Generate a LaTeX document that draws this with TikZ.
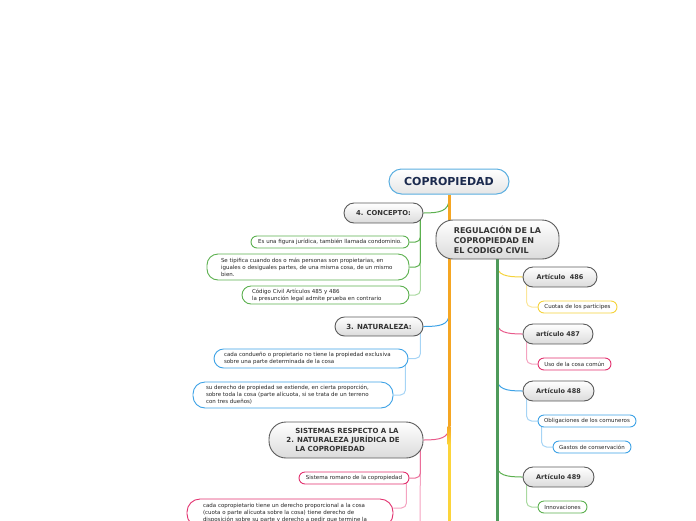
\documentclass[tikz,border=0pt]{standalone}
\usepackage{fontspec}
\setmainfont{DejaVu Sans}
\usetikzlibrary{backgrounds}
\definecolor{txt}{HTML}{333333}
\definecolor{navy}{HTML}{1B2A4E}
\definecolor{cborder}{HTML}{5AAEE0}
\definecolor{gborder}{HTML}{5A5A5A}
\definecolor{trunkO}{HTML}{F5A623}
\definecolor{trunkY}{HTML}{FCD43A}
\definecolor{trunkG}{HTML}{4E9A5A}
\definecolor{cgreen}{HTML}{5CB04F}
\definecolor{cgreenL}{HTML}{A9D9A0}
\definecolor{cblue}{HTML}{3DA2E6}
\definecolor{cblueL}{HTML}{A6D4F5}
\definecolor{cpink}{HTML}{E2306E}
\definecolor{cpinkL}{HTML}{F4A3C0}
\definecolor{cyellow}{HTML}{F5D33B}
\definecolor{cyellowL}{HTML}{FBE69A}
\newcommand{\firstline}[2]{\makebox[#1][l]{#2}}
\tikzset{
  mainbox/.style={draw=gborder, line width=0.9pt, top color=white, bottom color=black!14,
    text=txt, inner sep=0pt, align=left},
  leaf/.style={draw=#1, line width=0.9pt, fill=white, text=black!85,
    font=\fontsize{5.5}{6.9}\selectfont, inner sep=0pt, align=left},
  branch/.style={line width=1pt, #1},
  sub/.style={line width=1pt, #1, rounded corners=5pt},
  trunk/.style={line width=3pt, #1},
}
\begin{document}
\begin{tikzpicture}[x=1pt,y=-1pt]
\clip (0,0) rectangle (696,520);
% ---------- main nodes ----------
\node[draw=cborder, line width=1pt, top color=white, bottom color=black!10,
  rounded corners=12.5pt, minimum width=120pt, minimum height=25pt, inner sep=0pt,
  font=\fontsize{11}{13}\selectfont\bfseries, text=navy] (cop) at (449,181.5) {COPROPIEDAD};
\node[mainbox, rounded corners=10pt, minimum width=79pt, minimum height=20pt,
  font=\fontsize{6.8}{9}\selectfont\bfseries] (concept) at (383.5,213) {4. CONCEPTO:};
\node[mainbox, rounded corners=17pt, minimum width=123pt, minimum height=39pt,
  font=\fontsize{8}{10}\selectfont\bfseries] (reg) at (497.5,239.5)
  {REGULACIÓN DE LA\\COPROPIEDAD EN\\EL CODIGO CIVIL};
\node[mainbox, rounded corners=9.5pt, minimum width=88pt, minimum height=19pt,
  font=\fontsize{7}{9}\selectfont\bfseries] (nat) at (379,326.5) {3. NATURALEZA:};
\node[mainbox, rounded corners=17pt, minimum width=154pt, minimum height=36pt,
  font=\fontsize{7}{9}\selectfont\bfseries] (sis) at (346,440)
  {\hspace*{9pt}SISTEMAS RESPECTO A LA\\2. NATURALEZA JURÍDICA DE\hspace*{6pt}\mbox{}\\\hspace*{9pt}LA COPROPIEDAD};
% ---------- left leaves ----------
\node[leaf=cgreen, rounded corners=6pt, minimum width=158pt, minimum height=12pt] (l1) at (330,242)
  {Es una figura jurídica, también llamada condominio.};
\node[leaf=cgreen, rounded corners=11pt, minimum width=202pt, minimum height=26pt] (l2) at (308,267)
  {\firstline{174pt}{Se tipifica cuando dos o más personas son propietarias, en}\\iguales o desiguales partes, de una misma cosa, de un mismo\\bien.};
\node[leaf=cgreen, rounded corners=9pt, minimum width=167pt, minimum height=18pt] (l3) at (325.5,295)
  {\firstline{147pt}{Código Civil Artículos 485 y 486}\\la presunción legal admite prueba en contrario};
\node[leaf=cblue, rounded corners=9.5pt, minimum width=194pt, minimum height=19pt] (n1) at (311,358.5)
  {\firstline{174pt}{cada condueño o propietario no tiene la propiedad exclusiva}\\sobre una parte determinada de la cosa};
\node[leaf=cblue, rounded corners=12pt, minimum width=200pt, minimum height=26pt] (n2) at (293,395)
  {\firstline{174pt}{su derecho de propiedad se extiende, en cierta proporción,}\\sobre toda la cosa (parte alícuota, si se trata de un terreno\\con tres dueños)};
\node[leaf=cpink, rounded corners=6pt, minimum width=110pt, minimum height=12pt] (s1) at (354,478)
  {Sistema romano de la copropiedad};
\node[leaf=cpink, rounded corners=13pt, minimum width=206pt, minimum height=28pt] (s2) at (290,513)
  {\firstline{174pt}{cada copropietario tiene un derecho proporcional a la cosa}\\(cuota o parte alícuota sobre la cosa) tiene derecho de\\disposición sobre su parte y derecho a pedir que termine la};
% ---------- right nodes ----------
\node[mainbox, rounded corners=10pt, minimum width=74pt, minimum height=20pt,
  font=\fontsize{6.5}{8}\selectfont\bfseries] (a486) at (560,277) {Artículo\ \ 486};
\node[mainbox, rounded corners=10pt, minimum width=70pt, minimum height=20pt,
  font=\fontsize{6.5}{8}\selectfont\bfseries] (a487) at (558,334) {artículo 487};
\node[mainbox, rounded corners=10pt, minimum width=71pt, minimum height=20pt,
  font=\fontsize{6.5}{8}\selectfont\bfseries] (a488) at (558.5,391) {Artículo 488};
\node[mainbox, rounded corners=10pt, minimum width=71pt, minimum height=20pt,
  font=\fontsize{6.5}{8}\selectfont\bfseries] (a489) at (558.5,477) {Artículo 489};
\node[leaf=cyellow, rounded corners=6pt, minimum width=79pt, minimum height=12pt] (c1) at (577.5,307)
  {Cuotas de los partícipes};
\node[leaf=cpink, rounded corners=6pt, minimum width=73pt, minimum height=12pt] (c2) at (574.5,364)
  {Uso de la cosa común};
\node[leaf=cblue, rounded corners=6pt, minimum width=98pt, minimum height=12pt] (c3) at (587,421)
  {Obligaciones de los comuneros};
\node[leaf=cblue, rounded corners=6pt, minimum width=78pt, minimum height=12pt] (c4) at (592,447)
  {Gastos de conservación};
\node[leaf=cgreen, rounded corners=6pt, minimum width=49pt, minimum height=12pt] (c5) at (562.5,507)
  {Innovaciones};
% ---------- coordinates ----------
\coordinate (tO) at (449,426);
\coordinate (tY) at (449,444);
\coordinate (tEnd) at (449,530);
\coordinate (gEnd) at (497,530);
\coordinate (gTop) at (497,258);
\coordinate (tA) at (449,199);
\coordinate (tB) at (449,314);
\coordinate (tC) at (449,427);
\coordinate (gA) at (497,265);
\coordinate (gB) at (497,322);
\coordinate (gC) at (497,378);
\coordinate (gD) at (497,465);
\coordinate (soff) at (420,540);
% ---------- connectors ----------
\begin{pgfonlayer}{background}
  % left sub-connectors
  \draw[sub=cgreenL] ([xshift=-3pt]concept.east) |- (l3.east);
  \draw[sub=cgreen] ([xshift=-3pt]concept.east) |- (l2.east);
  \draw[sub=cgreen] ([xshift=-3pt]concept.east) |- (l1.east);
  \draw[sub=cblueL] ([xshift=-3pt]nat.east) |- (n1.east);
  \draw[sub=cblueL] ([xshift=-3pt]n1.east) |- (n2.east);
  \draw[sub=cpinkL] ([xshift=-3pt]sis.east) -- (soff);
  \draw[sub=cpink!70] ([xshift=-3pt]sis.east) |- (s1.east);
  \draw[sub=cpinkL] ([xshift=-3pt]s1.east) |- ([yshift=5pt]s2.east);
  % right sub-connectors
  \draw[sub=cyellowL] ([xshift=4pt]a486.west) |- (c1.west);
  \draw[sub=cpinkL] ([xshift=4pt]a487.west) |- (c2.west);
  \draw[sub=cblueL] ([xshift=4pt]a488.west) |- (c3.west);
  \draw[sub=cblueL] ([xshift=4pt]c3.west) |- (c4.west);
  \draw[sub=cgreenL] ([xshift=4pt]a489.west) |- (c5.west);
  % branches from orange trunk
  \draw[branch=cgreen] (tA) .. controls (449,211) and (440,213) .. (concept.east);
  \draw[branch=cblue] (tB) .. controls (449,325) and (440,326.5) .. (nat.east);
  \draw[branch=cpink!80] (tC) .. controls (449,438) and (440,440) .. (sis.east);
  % branches from green trunk
  \draw[branch=cyellow] (gA) .. controls (497,275) and (506,277) .. (a486.west);
  \draw[branch=cpink!80] (gB) .. controls (497,332) and (506,334) .. (a487.west);
  \draw[branch=cblue] (gC) .. controls (497,389) and (506,391) .. (a488.west);
  \draw[branch=cgreen] (gD) .. controls (497,475) and (506,477) .. (a489.west);
  % trunks
  \draw[trunk=trunkO] (cop.south) -- (tO);
  \shade[top color=trunkO, bottom color=trunkY] (447.5,426) rectangle (450.5,444);
  \draw[trunk=trunkY] (tY) -- (tEnd);
  \draw[trunk=trunkG] (gTop) -- (gEnd);
\end{pgfonlayer}
\end{tikzpicture}
\end{document}
